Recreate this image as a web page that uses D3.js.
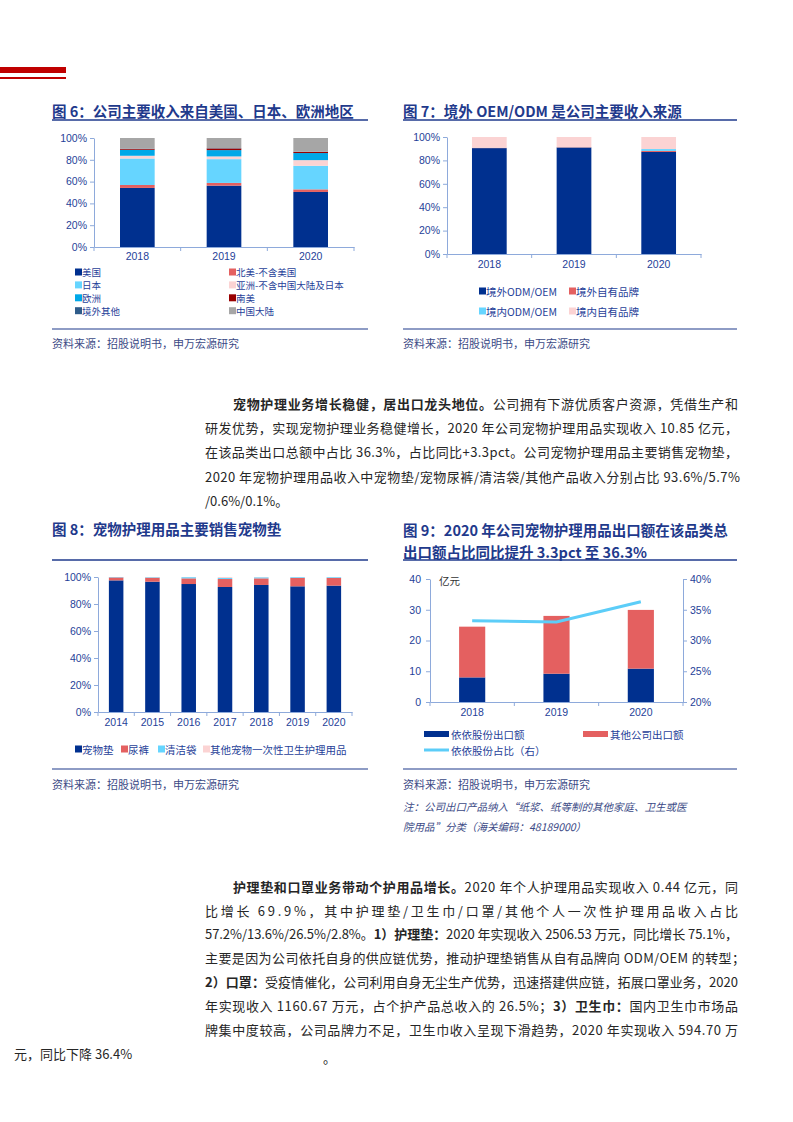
<!DOCTYPE html>
<html>
<head>
<meta charset="utf-8">
<script src="https://cdn.jsdelivr.net/npm/d3@7"></script>
<style>
  body { margin: 0; background: #fff; }
  svg { display: block; font-family: "Noto Sans CJK SC", "Noto Sans", sans-serif; }
  .tick text { font-family: "Liberation Sans", Arial, sans-serif; }
</style>
</head>
<body>
<svg id="page" width="793" height="1122"></svg>
<script>
// ---- figure 6: revenue by region (%)
const years6 = ['2018', '2019', '2020'];
const usa6 = [54.2, 56.3, 50.5];
const northAm6 = [2.7, 2.5, 2.4];
const japan6 = [24.3, 21.8, 21.6];
const asia6 = [2.5, 2.5, 5.2];
const europe6 = [5.5, 5.8, 6.5];
const southAm6 = [0.8, 1.5, 1.0];
const otherAbroad6 = [0.3, 0.3, 0.3];
const china6 = [9.7, 9.3, 12.5];
const names6 = ['美国', '北美-不含美国', '日本', '亚洲-不含中国大陆及日本', '欧洲', '南美', '境外其他', '中国大陆'];

// ---- figure 7: ODM/OEM vs own brand (%)
const years7 = ['2018', '2019', '2020'];
const odmAbroad7 = [90.5, 91.0, 87.2];
const brandAbroad7 = [0.3, 0.3, 0.9];
const odmHome7 = [0.1, 0.1, 1.6];
const brandHome7 = [9.1, 8.6, 10.3];
const names7 = ['境外ODM/OEM', '境外自有品牌', '境内ODM/OEM', '境内自有品牌'];

// ---- figure 8: pet care product mix (%)
const years8 = ['2014', '2015', '2016', '2017', '2018', '2019', '2020'];
const pad8 = [97.5, 96.5, 94.8, 92.6, 94.1, 93.1, 93.6];
const diaper8 = [2.2, 3.0, 4.2, 5.9, 4.9, 6.2, 5.7];
const bag8 = [0.3, 0.4, 0.9, 0.8, 0.8, 0.6, 0.6];
const other8 = [0.0, 0.1, 0.1, 0.7, 0.2, 0.1, 0.1];
const names8 = ['宠物垫', '尿裤', '清洁袋', '其他宠物一次性卫生护理用品'];

// ---- figure 9: export value (亿元) and share (%)
const years9 = ['2018', '2019', '2020'];
const yiyi9 = [8.0, 9.2, 10.85];
const others9 = [16.5, 18.8, 19.1];
const share9 = [33.2, 33.0, 36.3];
const names9 = ['依依股份出口额', '其他公司出口额', '依依股份占比（右）'];

const percentTicks = [0, 20, 40, 60, 80, 100];

const navy = '#00308f';
const titleColor = '#1f3a8c';
const axisColor = '#8eaadb';
const tickColor = '#1f3f99';
const srcColor = '#3b4a86';
const bodyColor = '#262626';

var svg = d3.select('#page');

// header red bars
svg.append('rect').attr('x', 0).attr('y', 67).attr('width', 66).attr('height', 6).attr('fill', '#c00000');
svg.append('rect').attr('x', 0).attr('y', 77).attr('width', 66).attr('height', 2).attr('fill', '#c00000');

function title(x, y, txt) {
  svg.append('text')
    .attr('x', x).attr('y', y)
    .attr('dominant-baseline', 'central')
    .attr('font-size', 14.5).attr('font-weight', 'bold')
    .attr('fill', titleColor)
    .text(txt);
}

function hline(x1, x2, y, w) {
  svg.append('line')
    .attr('x1', x1).attr('x2', x2).attr('y1', y).attr('y2', y)
    .attr('stroke', titleColor).attr('stroke-width', w);
}

function source(x, y) {
  svg.append('text')
    .attr('x', x).attr('y', y)
    .attr('dominant-baseline', 'central')
    .attr('font-size', 11).attr('fill', srcColor)
    .text('资料来源：招股说明书，申万宏源研究');
}

function styleAxis(g) {
  g.selectAll('path, line').attr('stroke', axisColor);
  g.selectAll('text').attr('fill', tickColor).attr('font-size', 10.5);
}

// stacked percent chart
function stackedChart(o) {
  var table = o.years.map((yr, i) => {
    var row = { year: yr };
    o.keys.forEach((k, j) => row[k] = o.series[j][i]);
    return row;
  });
  var stacked = d3.stack().keys(o.keys)(table);

  var x = d3.scaleBand()
    .domain(o.years)
    .range([o.x0, o.x1])
    .paddingInner(o.pad).paddingOuter(o.pad / 2);
  var y = d3.scaleLinear().domain([0, 100]).range([o.y0, o.y1]);

  var g = svg.append('g');
  g.selectAll('g.layer')
    .data(stacked)
    .enter().append('g')
    .attr('fill', (d, i) => o.colors[i])
    .selectAll('rect')
    .data(d => d)
    .enter().append('rect')
    .attr('x', d => x(d.data.year))
    .attr('width', x.bandwidth())
    .attr('y', d => y(d[1]))
    .attr('height', d => y(d[0]) - y(d[1]));

  var ya = g.append('g')
    .attr('transform', 'translate(' + o.x0 + ',0)')
    .call(d3.axisLeft(y).tickValues(percentTicks).tickFormat(d => d + '%').tickSize(4).tickSizeOuter(0));
  styleAxis(ya);

  var xa = g.append('g')
    .attr('transform', 'translate(0,' + o.y0 + ')')
    .call(d3.axisBottom(x).tickSize(0).tickSizeOuter(0).tickPadding(o.labelPad));
  styleAxis(xa);
  // ticks between categories
  d3.range(o.years.length + 1).forEach(i => {
    var bx = o.x0 + i * x.step();
    xa.append('line').attr('x1', bx).attr('x2', bx).attr('y1', 0).attr('y2', 4).attr('stroke', axisColor);
  });
}

function legendItems(items) {
  items.forEach(it => {
    svg.append('rect').attr('x', it.x).attr('y', it.y - 3.5).attr('width', 7).attr('height', 7).attr('fill', it.color);
    svg.append('text')
      .attr('x', it.x + 7).attr('y', it.y)
      .attr('dominant-baseline', 'central')
      .attr('font-size', it.size || 10.5).attr('fill', tickColor)
      .text(it.name);
  });
}

// ===== Figure 6
title(52, 110, '图 6：公司主要收入来自美国、日本、欧洲地区');
hline(52, 368, 120, 1.5);
var colors6 = [navy, '#e46060', '#66d5ff', '#fbd3d3', '#00a8e8', '#990000', '#2f5c8a', '#a6a6a6'];
stackedChart({
  years: years6,
  keys: ['usa', 'na', 'jp', 'asia', 'eu', 'sa', 'oth', 'cn'],
  series: [usa6, northAm6, japan6, asia6, europe6, southAm6, otherAbroad6, china6],
  colors: colors6,
  x0: 94, x1: 354, y0: 247, y1: 138, pad: 0.6, labelPad: 6
});
var leg6 = [];
names6.forEach((n, i) => {
  leg6.push({ name: n, color: colors6[i], x: i % 2 === 0 ? 75 : 229, y: 272 + Math.floor(i / 2) * 12.9, size: 9.5 });
});
legendItems(leg6);
hline(52, 368, 329, 1.2);
source(52, 343);

// ===== Figure 7
title(403, 110, '图 7：境外 OEM/ODM 是公司主要收入来源');
hline(403, 737, 120, 1.5);
var colors7 = [navy, '#e46060', '#66d5ff', '#fbd3d3'];
stackedChart({
  years: years7,
  keys: ['oa', 'ba', 'oh', 'bh'],
  series: [odmAbroad7, brandAbroad7, odmHome7, brandHome7],
  colors: colors7,
  x0: 447, x1: 701, y0: 254, y1: 137, pad: 0.59, labelPad: 7
});
legendItems([
  { name: names7[0], color: colors7[0], x: 479, y: 291 },
  { name: names7[1], color: colors7[1], x: 569, y: 291 },
  { name: names7[2], color: colors7[2], x: 479, y: 311 },
  { name: names7[3], color: colors7[3], x: 569, y: 311 }
]);
hline(403, 737, 329, 1.2);
source(403, 343);

// ===== Body paragraph 1
function bodyLine(x, y, segs, width) {
  var t = svg.append('text')
    .attr('x', x).attr('y', y)
    .attr('dominant-baseline', 'central')
    .attr('font-size', 13).attr('fill', bodyColor);
  segs.forEach(s => {
    t.append('tspan').attr('font-weight', s.b ? 'bold' : 'normal').text(s.t);
  });
  if (width) t.attr('textLength', width).attr('lengthAdjust', 'spacing');
}

bodyLine(233, 403, [{ t: '宠物护理业务增长稳健，居出口龙头地位。', b: true }, { t: '公司拥有下游优质客户资源，凭借生产和' }], 505);
bodyLine(205, 427, [{ t: '研发优势，实现宠物护理业务稳健增长，2020 年公司宠物护理用品实现收入 10.85 亿元，' }], 533);
bodyLine(205, 451, [{ t: '在该品类出口总额中占比 36.3%，占比同比+3.3pct。公司宠物护理用品主要销售宠物垫，' }], 533);
bodyLine(205, 476, [{ t: '2020  年宠物护理用品收入中宠物垫/宠物尿裤/清洁袋/其他产品收入分别占比  93.6%/5.7%' }], 535);
bodyLine(205, 500, [{ t: '/0.6%/0.1%。' }]);

// ===== Figure 8
title(52, 528, '图 8：宠物护理用品主要销售宠物垫');
hline(52, 368, 560, 1.5);
var colors8 = [navy, '#e46060', '#66d5ff', '#fbd3d3'];
stackedChart({
  years: years8,
  keys: ['pad', 'dia', 'bag', 'oth'],
  series: [pad8, diaper8, bag8, other8],
  colors: colors8,
  x0: 98, x1: 352, y0: 712, y1: 577, pad: 0.6, labelPad: 7
});
legendItems([
  { name: names8[0], color: colors8[0], x: 75, y: 749 },
  { name: names8[1], color: colors8[1], x: 121, y: 749 },
  { name: names8[2], color: colors8[2], x: 158, y: 749 },
  { name: names8[3], color: colors8[3], x: 203, y: 749 }
]);
hline(52, 368, 769, 1.2);
source(52, 784);

// ===== Figure 9
title(403, 529, '图 9：2020 年公司宠物护理用品出口额在该品类总');
title(403, 551, '出口额占比同比提升 3.3pct 至 36.3%');
hline(403, 737, 560, 1.5);

(function () {
  var x0 = 430, x1 = 683, y0 = 702, y1 = 579;
  var table = years9.map((yr, i) => ({ year: yr, yiyi: yiyi9[i], oth: others9[i] }));
  var stacked = d3.stack().keys(['yiyi', 'oth'])(table);
  var colors9 = [navy, '#e46060'];

  var x = d3.scaleBand().domain(years9).range([x0, x1]).paddingInner(0.69).paddingOuter(0.345);
  var y = d3.scaleLinear().domain([0, 40]).range([y0, y1]);
  var y2 = d3.scaleLinear().domain([20, 40]).range([y0, y1]);

  var g = svg.append('g');
  g.selectAll('g.layer')
    .data(stacked)
    .enter().append('g')
    .attr('fill', (d, i) => colors9[i])
    .selectAll('rect')
    .data(d => d)
    .enter().append('rect')
    .attr('x', d => x(d.data.year))
    .attr('width', x.bandwidth())
    .attr('y', d => y(d[1]))
    .attr('height', d => y(d[0]) - y(d[1]));

  var line = d3.line()
    .x((d, i) => x(years9[i]) + x.bandwidth() / 2)
    .y(d => y2(d));
  g.append('path')
    .datum(share9)
    .attr('d', line)
    .attr('fill', 'none')
    .attr('stroke', '#5ccdf8')
    .attr('stroke-width', 3);

  var ya = g.append('g')
    .attr('transform', 'translate(' + x0 + ',0)')
    .call(d3.axisLeft(y).tickValues([0, 10, 20, 30, 40]).tickSize(4).tickSizeOuter(0).tickPadding(5));
  styleAxis(ya);
  var yb = g.append('g')
    .attr('transform', 'translate(' + x1 + ',0)')
    .call(d3.axisRight(y2).tickValues([20, 25, 30, 35, 40]).tickFormat(d => d + '%').tickSize(4).tickSizeOuter(0));
  styleAxis(yb);
  var xa = g.append('g')
    .attr('transform', 'translate(0,' + y0 + ')')
    .call(d3.axisBottom(x).tickSize(0).tickSizeOuter(0).tickPadding(7));
  styleAxis(xa);
  d3.range(years9.length + 1).forEach(i => {
    var bx = x0 + i * x.step();
    xa.append('line').attr('x1', bx).attr('x2', bx).attr('y1', 0).attr('y2', 4).attr('stroke', axisColor);
  });

  g.append('text').attr('x', 439).attr('y', 580)
    .attr('dominant-baseline', 'central')
    .attr('font-size', 10.5).attr('fill', '#333')
    .text('亿元');

  // legend
  svg.append('rect').attr('x', 424).attr('y', 731).attr('width', 25).attr('height', 6).attr('fill', colors9[0]);
  svg.append('rect').attr('x', 583).attr('y', 731).attr('width', 25).attr('height', 6).attr('fill', colors9[1]);
  svg.append('line').attr('x1', 424).attr('x2', 449).attr('y1', 750).attr('y2', 750).attr('stroke', '#5ccdf8').attr('stroke-width', 3);
  [[names9[0], 451, 734], [names9[1], 610, 734], [names9[2], 451, 750]].forEach(l => {
    svg.append('text').attr('x', l[1]).attr('y', l[2])
      .attr('dominant-baseline', 'central')
      .attr('font-size', 10.5).attr('fill', tickColor)
      .text(l[0]);
  });
})();

hline(403, 737, 769, 1.2);
source(403, 784);
svg.append('text').attr('x', 403).attr('y', 806).attr('dominant-baseline', 'central')
  .attr('font-size', 10.5).attr('font-style', 'italic').attr('fill', srcColor)
  .text('注：公司出口产品纳入“纸浆、纸等制的其他家庭、卫生或医');
svg.append('text').attr('x', 403).attr('y', 826).attr('dominant-baseline', 'central')
  .attr('font-size', 10.5).attr('font-style', 'italic').attr('fill', srcColor)
  .text('院用品”分类（海关编码：48189000）');

// ===== Body paragraph 2
bodyLine(233, 886, [{ t: '护理垫和口罩业务带动个护用品增长。', b: true }, { t: '2020 年个人护理用品实现收入 0.44 亿元，同' }], 505);
bodyLine(205, 910, [{ t: '比增长 69.9%，其中护理垫/卫生巾/口罩/其他个人一次性护理用品收入占比' }], 533);
bodyLine(205, 933, [{ t: '57.2%/13.6%/26.5%/2.8%。' }, { t: '1）护理垫：', b: true }, { t: '2020 年实现收入 2506.53 万元，同比增长 75.1%，' }], 533);
bodyLine(205, 957, [{ t: '主要是因为公司依托自身的供应链优势，推动护理垫销售从自有品牌向 ODM/OEM 的转型；' }], 540);
bodyLine(205, 981, [{ t: '2）口罩：', b: true }, { t: '受疫情催化，公司利用自身无尘生产优势，迅速搭建供应链，拓展口罩业务，2020' }], 533);
bodyLine(205, 1005, [{ t: '年实现收入 1160.67 万元，占个护产品总收入的 26.5%；' }, { t: '3）卫生巾：', b: true }, { t: '国内卫生巾市场品' }], 533);
bodyLine(205, 1029, [{ t: '牌集中度较高，公司品牌力不足，卫生巾收入呈现下滑趋势，2020 年实现收入 594.70 万' }], 533);
bodyLine(14, 1053, [{ t: '元，同比下降 36.4%' }]);
bodyLine(323, 1057, [{ t: '。' }]);
</script>
</body>
</html>
